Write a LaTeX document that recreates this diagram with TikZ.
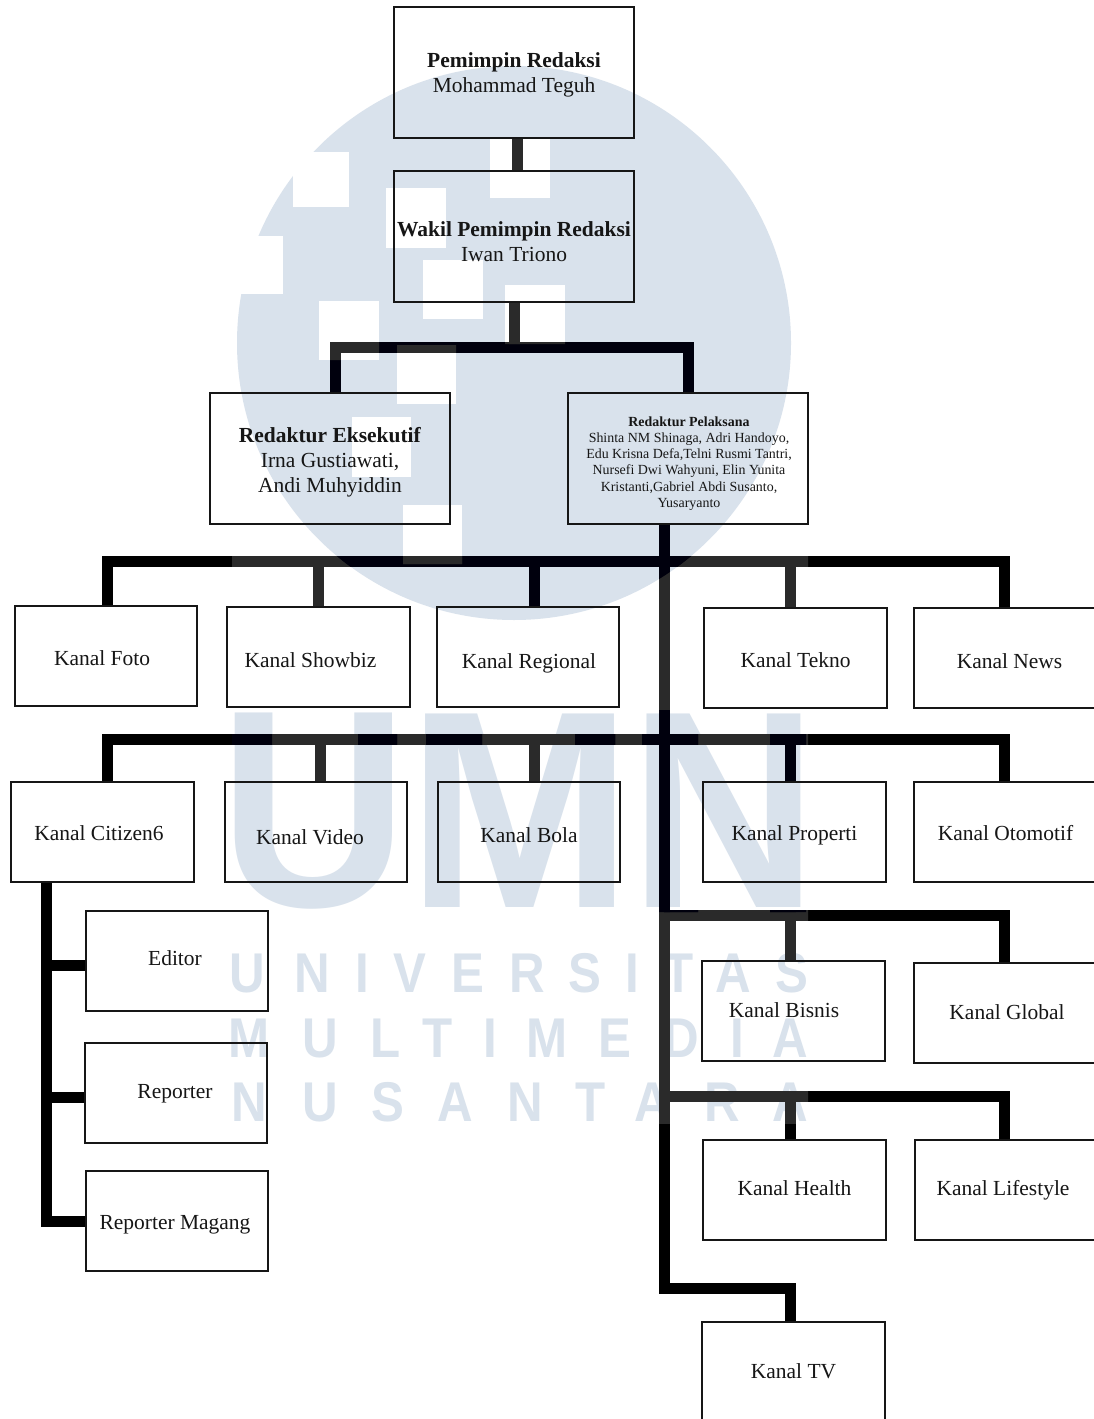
\documentclass[tikz,border=0pt]{standalone}
\usepackage{fontspec}
\setmainfont{Liberation Serif}
\newfontfamily\wmfont{Liberation Sans}
\definecolor{wm}{HTML}{D9E2EC}
\definecolor{ink}{HTML}{161616}
\definecolor{hazed}{HTML}{2A2A2A}
\newcommand{\off}[3]{\makebox[0pt][c]{\hspace*{\dimexpr #1pt*3/2\relax}\raisebox{\dimexpr -#2pt*3/4-0.75pt\relax}[0pt][0pt]{#3}}}
\newcommand{\twoln}[2]{\begin{tabular}[b]{@{}c@{}}#1\\#2\end{tabular}}
\tikzset{
  kbox/.style n args={2}{draw=ink,line width=1.1pt,inner sep=0pt,minimum width=#1*0.75pt,minimum height=#2*0.75pt,text=ink,font=\fontsize{16.1}{18.75}\selectfont},
  conn/.style={line width=8.25pt,line join=miter},
  big/.style={text=wm,inner sep=0pt,font=\wmfont\bfseries\fontsize{211}{211}\selectfont},
  wml/.style={text=wm,inner sep=0pt,font=\wmfont\bfseries\fontsize{42}{42}\selectfont},
}
\newcommand{\allconn}{%
  \draw[conn] (pem.south -| 517,0) -- (wak.north -| 517,0);
  \draw[conn] (wak.south -| 514,0) -- (j1);
  \draw[conn] (eks.north -| 335,0) |- (j1);
  \draw[conn] (pel.north -| 688,0) |- (j1);
  \draw[conn] (pel.south -| 664,0) -- (b4) -| (tv.north -| 790,0);
  \draw[conn] (foto.north -| 107,0) |- (b1);
  \draw[conn] (showbiz.north -| 318,0) |- (b1);
  \draw[conn] (regional.north -| 534,0) |- (b1);
  \draw[conn] (tekno.north -| 790,0) |- (b1);
  \draw[conn] (news.north -| 1004,0) |- (b1);
  \draw[conn] (citizen.north -| 107,0) |- (b2);
  \draw[conn] (video.north -| 320,0) |- (b2);
  \draw[conn] (bola.north -| 534,0) |- (b2);
  \draw[conn] (properti.north -| 790,0) |- (b2);
  \draw[conn] (otomotif.north -| 1004,0) |- (b2);
  \draw[conn] (bisnis.north -| 790,0) |- (b3);
  \draw[conn] (global.north -| 1004,0) |- (b3);
  \draw[conn] (health.north -| 790,0) |- (b5);
  \draw[conn] (lifestyle.north -| 1004,0) |- (b5);
  \draw[conn] (citizen.south -| 46,0) |- (magang.west);
  \draw[conn] (editor.west |- 0,965) -- (46,965);
  \draw[conn] (reporter.west |- 0,1097) -- (46,1097);
}
\begin{document}
\begin{tikzpicture}[x=0.75pt,y=-0.75pt]
\useasboundingbox (0,0) rectangle (1094,1419);
\fill[white] (0,0) rectangle (1094,1419);
% watermark
\fill[wm] (514,343) circle (277);
\fill[white] (293,152) rectangle (349,207);
\fill[white] (386,188) rectangle (446,248);
\fill[white] (490,138) rectangle (550,198);
\fill[white] (423,260) rectangle (483,319);
\fill[white] (505,285) rectangle (565,344);
\fill[white] (319,301) rectangle (379,360);
\fill[white] (397,345) rectangle (456,404);
\fill[white] (352,417) rectangle (411,477);
\fill[white] (403,505) rectangle (462,564);
\fill[white] (223,236) rectangle (283,294);
\node[big] (wU) at (314,811) {\scalebox{.93}[1]{U}};
\node[big] (wM) at (520,811) {\scalebox{.96}[1]{M}};
\node[big] (wN) at (724,811) {\scalebox{.93}[1]{N}};
\foreach \c/\x [count=\i] in {U/247,N/312,I/362,V/410,E/468,R/527,S/585,I/632,T/679,A/733,S/792}
  \node[wml] (wa\i) at (\x,973) {\scalebox{.88}[1]{\c}};
\foreach \c/\x [count=\i] in {M/249,U/320,L/386,T/438,I/490,M/547,E/615,D/681,I/737,A/790}
  \node[wml] (wb\i) at (\x,1038) {\scalebox{.88}[1]{\c}};
\foreach \c/\x [count=\i] in {N/249,U/320,S/388,A/455,N/525,T/591,A/652,R/722,A/790}
  \node[wml] (wc\i) at (\x,1102) {\scalebox{.88}[1]{\c}};
% boxes
\node[kbox={240}{131}] (pem) at (514,72.5) {\off{0}{19}{\twoln{\textbf{Pemimpin Redaksi}}{Mohammad Teguh}}};
\node[kbox={240}{131}] (wak) at (514,236.5) {\off{0}{24}{\twoln{\textbf{Wakil Pemimpin Redaksi}}{Iwan Triono}}};
\node[kbox={240}{131}] (eks) at (330,458.5) {\off{0}{33}{\begin{tabular}[b]{@{}c@{}}\textbf{Redaktur Eksekutif}\\Irna Gustiawati,\\Andi Muhyiddin\end{tabular}}};
\node[kbox={240}{131}] (pel) at (688,458.5) {\off{1}{48}{\fontsize{10.45}{12.2}\selectfont\begin{tabular}[b]{@{}c@{}}\textbf{Redaktur Pelaksana}\\Shinta NM Shinaga, Adri Handoyo,\\Edu Krisna Defa,Telni Rusmi Tantri,\\Nursefi Dwi Wahyuni, Elin Yunita\\Kristanti,Gabriel Abdi Susanto,\\Yusaryanto\end{tabular}}};
\node[kbox={182}{100}] (foto) at (106,656) {\off{-4}{8}{Kanal Foto}};
\node[kbox={183}{100}] (showbiz) at (318.5,657) {\off{-8}{9}{Kanal Showbiz}};
\node[kbox={182}{100}] (regional) at (528,657) {\off{1}{10}{Kanal Regional}};
\node[kbox={183}{100}] (tekno) at (795.5,658) {\off{0}{8}{Kanal Tekno}};
\node[kbox={183}{100}] (news) at (1005.5,658) {\off{4}{9}{Kanal News}};
\node[kbox={183}{100}] (citizen) at (102.5,832) {\off{-3.5}{7}{Kanal Citizen6}};
\node[kbox={182}{100}] (video) at (316,832) {\off{-6}{11}{Kanal Video}};
\node[kbox={182}{100}] (bola) at (529,832) {\off{0}{9}{Kanal Bola}};
\node[kbox={183}{100}] (properti) at (794.5,832) {\off{0}{7}{Kanal Properti}};
\node[kbox={183}{100}] (otomotif) at (1005.5,832) {\off{0}{7}{Kanal Otomotif}};
\node[kbox={183}{100}] (bisnis) at (793.5,1011) {\off{-9.5}{5}{Kanal Bisnis}};
\node[kbox={183}{100}] (global) at (1005.5,1013) {\off{1.5}{5}{Kanal Global}};
\node[kbox={183}{100}] (health) at (794.5,1190) {\off{0}{4}{Kanal Health}};
\node[kbox={183}{100}] (lifestyle) at (1006.5,1190) {\off{-3.5}{4}{Kanal Lifestyle}};
\node[kbox={183}{100}] (tv) at (793.5,1372) {\off{0}{5}{Kanal TV}};
\node[kbox={182}{100}] (editor) at (177,961) {\off{-2}{3}{Editor}};
\node[kbox={182}{100}] (reporter) at (176,1093) {\off{-1}{4}{Reporter}};
\node[kbox={182}{100}] (magang) at (177,1221) {\off{-2}{7}{Reporter Magang}};
% junctions
\coordinate (j1) at (514,347);
\coordinate (b1) at (664,561);
\coordinate (b2) at (664,739);
\coordinate (b3) at (664,915);
\coordinate (b5) at (664,1096);
\coordinate (b4) at (664,1288);
% connectors
\begin{scope}[black] \allconn \end{scope}
\begin{scope}
  \clip (232,0) rectangle (808,1123);
  \begin{scope}[hazed] \allconn \end{scope}
\end{scope}
\begin{scope}
  \clip (232,0) rectangle (808,1123);
  \clip (514,343) circle (277) (232,710) rectangle (272,912) (358,710) rectangle (397,912) (426,710) rectangle (482,912) (575,710) rectangle (615,912) (642,710) rectangle (698,912) (770,710) rectangle (806,912);
  \begin{scope}[black!95!blue] \allconn \end{scope}
\end{scope}
\begin{scope}
  \clip (293,152) rectangle (349,207) (386,188) rectangle (446,248) (490,138) rectangle (550,198) (423,260) rectangle (483,319) (505,285) rectangle (565,344) (319,301) rectangle (379,360) (397,345) rectangle (456,404) (352,417) rectangle (411,477) (403,505) rectangle (462,564);
  \begin{scope}[hazed] \allconn \end{scope}
\end{scope}
\end{tikzpicture}
\end{document}
